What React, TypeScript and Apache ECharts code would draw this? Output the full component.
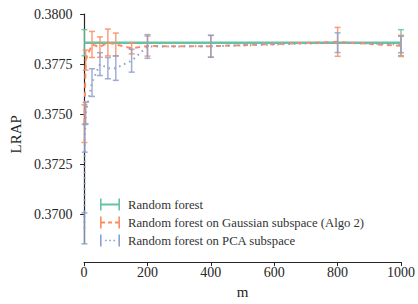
import React, { useEffect, useRef } from "react";
import * as echarts from "echarts";

// ---- data ----
const rfM = [1, 1000];
const rfMean = [0.37857, 0.37857];
const rfErr = [0.00065, 0.00065];

const gaussM = [1, 5, 25, 50, 75, 100, 150, 200, 400, 800, 1000];
const gaussMean = [0.37453, 0.3777, 0.37848, 0.37835, 0.37858, 0.37848, 0.37829, 0.3784, 0.37839, 0.37861, 0.37841];
const gaussErr = [0.00094, 0.0005, 0.00065, 0.00051, 0.00067, 0.00057, 0.00028, 0.0005, 0.00054, 0.00072, 0.00053];

const pcaM = [1, 2, 5, 25, 50, 75, 100, 150, 200, 400, 800, 1000];
const pcaMean = [0.36931, 0.3738, 0.37506, 0.37658, 0.3775, 0.3773, 0.3773, 0.37767, 0.37838, 0.37839, 0.37857, 0.37848];
const pcaErr = [0.00077, 0.00069, 0.00054, 0.00069, 0.00057, 0.00053, 0.00061, 0.00057, 0.00059, 0.00055, 0.00049, 0.00041];

const yTicks = [0.37, 0.3725, 0.375, 0.3775, 0.38];
const seriesNames = [
  "Random forest",
  "Random forest on Gaussian subspace (Algo 2)",
  "Random forest on PCA subspace",
];

const GREEN = "#66c2a5";
const ORANGE = "#fc8d62";
const BLUE = "#8da0cb";
const FONT = "Liberation Serif, Times New Roman, serif";

const iconSolid =
  "path://M0,0h1.6v12h-1.6z M18.4,0h1.6v12h-1.6z M1.6,5.1h16.8v1.8h-16.8z";
const iconDashed =
  "path://M0,0h1.6v12h-1.6z M18.4,0h1.6v12h-1.6z M1.6,5.1h3.4v1.8h-3.4z M8,5.1h4v1.8h-4z M15,5.1h3.4v1.8h-3.4z";
const iconDotted =
  "path://M0,0h1.6v12h-1.6z M18.4,0h1.6v12h-1.6z M5,5.2h1.6v1.6h-1.6z M9.2,5.2h1.6v1.6h-1.6z M13.4,5.2h1.6v1.6h-1.6z";

function lineData(m: number[], v: number[]) {
  return m.map((x, i) => [x, v[i]]);
}
function errData(m: number[], v: number[], e: number[]) {
  return m.map((x, i) => [x, v[i] - e[i], v[i] + e[i]]);
}

function errSeries(name: string, color: string, data: number[][]) {
  return {
    name,
    type: "custom",
    data,
    encode: { x: 0, y: [1, 2] },
    z: 3,
    renderItem: (_p: any, api: any) => {
      const x = api.value(0);
      const a = api.coord([x, api.value(1)]);
      const b = api.coord([x, api.value(2)]);
      const w = 3;
      const style = { stroke: color, lineWidth: 1.5, opacity: 0.85 };
      return {
        type: "group",
        children: [
          { type: "line", shape: { x1: a[0], y1: a[1], x2: b[0], y2: b[1] }, style },
          { type: "line", shape: { x1: a[0] - w, y1: a[1], x2: a[0] + w, y2: a[1] }, style },
          { type: "line", shape: { x1: b[0] - w, y1: b[1], x2: b[0] + w, y2: b[1] }, style },
        ],
      };
    },
  };
}

export default function App() {
  const ref = useRef<HTMLDivElement>(null);
  useEffect(() => {
    if (!ref.current) return;
    const chart = echarts.init(ref.current, null, { renderer: "svg" });
    const axisText = { color: "#262626", fontFamily: FONT, fontSize: 14 };
    chart.setOption({
      animation: false,
      backgroundColor: "#ffffff",
      textStyle: { fontFamily: FONT },
      grid: { left: 81.7, right: 16.3, top: 14, bottom: 56 },
      legend: {
        orient: "vertical",
        left: 95,
        top: 193,
        itemWidth: 20,
        itemHeight: 12,
        itemGap: 5,
        textStyle: { color: "#333", fontFamily: FONT, fontSize: 12.7, padding: [0, 0, 0, 3] },
        data: [
          { name: seriesNames[0], icon: iconSolid, itemStyle: { color: GREEN } },
          { name: seriesNames[1], icon: iconDashed, itemStyle: { color: ORANGE } },
          { name: seriesNames[2], icon: iconDotted, itemStyle: { color: BLUE } },
        ],
      },
      xAxis: {
        type: "value",
        min: 0,
        max: 1000,
        interval: 200,
        offset: 18.5,
        name: "m",
        nameLocation: "middle",
        nameGap: 21,
        nameTextStyle: { ...axisText, fontSize: 15 },
        axisLine: { show: true, lineStyle: { color: "#262626", width: 1.2 } },
        axisTick: { show: true, length: 4, lineStyle: { color: "#262626", width: 1 } },
        axisLabel: { ...axisText, margin: 3, formatter: (v: number) => String(v) },
        splitLine: { show: false },
      },
      yAxis: {
        type: "value",
        min: 0.36855,
        max: 0.38,
        offset: 7.7,
        name: "LRAP",
        nameLocation: "middle",
        nameGap: 47,
        nameRotate: 90,
        nameTextStyle: { ...axisText, fontSize: 15, padding: [0, 11, 0, 0] },
        axisLine: { show: true, lineStyle: { color: "#262626", width: 1.2 } },
        axisTick: { show: true, length: 4, customValues: yTicks, lineStyle: { color: "#262626", width: 1 } },
        axisLabel: {
          ...axisText,
          margin: 4,
          customValues: yTicks,
          formatter: (v: number) => v.toFixed(4),
        },
        splitLine: { show: false },
      },
      series: [
        {
          name: seriesNames[0],
          type: "line",
          data: lineData(rfM, rfMean),
          symbol: "none",
          lineStyle: { color: GREEN, width: 2.5, type: "solid" },
          itemStyle: { color: GREEN },
          z: 2,
        },
        errSeries("rf-err", GREEN, errData(rfM, rfMean, rfErr)),
        {
          name: seriesNames[1],
          type: "line",
          data: lineData(gaussM, gaussMean),
          symbol: "none",
          lineStyle: { color: ORANGE, width: 2, type: [5, 4] },
          itemStyle: { color: ORANGE },
          z: 2,
        },
        errSeries("gauss-err", ORANGE, errData(gaussM, gaussMean, gaussErr)),
        {
          name: seriesNames[2],
          type: "line",
          data: lineData(pcaM, pcaMean),
          symbol: "none",
          lineStyle: { color: BLUE, width: 2, type: [1.5, 4] },
          itemStyle: { color: BLUE },
          z: 2,
        },
        errSeries("pca-err", BLUE, errData(pcaM, pcaMean, pcaErr)),
      ],
    });
    return () => chart.dispose();
  }, []);
  return (
    <div
      ref={ref}
      style={{ position: "absolute", left: 0, top: 0, width: 418, height: 304 }}
    />
  );
}
